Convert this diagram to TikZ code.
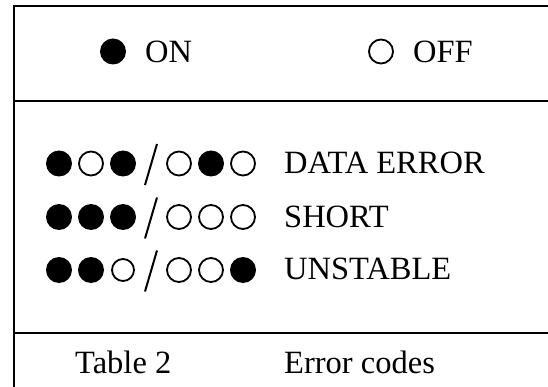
\documentclass[tikz,border=0pt]{standalone}
\usepackage{fontspec}
\setmainfont{Liberation Serif}
\usepackage{tikz}
\usetikzlibrary{positioning}

\begin{document}
\begin{tikzpicture}[
    x=1pt, y=-1pt,
    frame/.style={draw, line width=2pt},
    ledon/.style={circle, fill=black, inner sep=0pt, minimum size=26pt},
    ledoff/.style={circle, draw, line width=1.8pt, inner sep=0pt, minimum size=24pt},
    label/.style={anchor=base west, inner sep=0pt, font=\fontsize{32.5}{36}\selectfont},
    sep/.style={line width=2pt}
]
\useasboundingbox (0,0) rectangle (548,387);

% Frame
\draw[frame] (548,5.8) -- (13.7,5.8) -- (13.7,387);
\draw[frame] (13.7,101.5) -- (548,101.5);
\draw[frame] (13.7,332.5) -- (548,332.5);

% Legend
\node[ledon] (on) at (113,51.5) {};
\node[label] (ontext) at (145,63) {ON};
\node[ledoff] (off) at (381,51.5) {};
\node[label] (offtext) at (413,63) {OFF};

% Data error
\node[ledon]  (a1) at (59,163.5) {};
\node[ledoff] (a2) at (91,163.5) {};
\node[ledon]  (a3) at (123,163.5) {};
\node[ledoff] (a4) at (179,163.5) {};
\node[ledon]  (a5) at (211,163.5) {};
\node[ledoff] (a6) at (243,163.5) {};
\coordinate (atop) at (157,144);
\coordinate (abot) at (145,185);
\draw[sep] (atop) -- (abot);
\node[label] (atext) at (284,173.5) {DATA ERROR};

% Short
\node[ledon]  (b1) at (59,217) {};
\node[ledon]  (b2) at (91,217) {};
\node[ledon]  (b3) at (123,217) {};
\node[ledoff] (b4) at (179,217) {};
\node[ledoff] (b5) at (211,217) {};
\node[ledoff] (b6) at (243,217) {};
\coordinate (btop) at (157,197.5);
\coordinate (bbot) at (145,238.5);
\draw[sep] (btop) -- (bbot);
\node[label] (btext) at (284,227) {SHORT};

% Unstable
\node[ledon]  (c1) at (59,270) {};
\node[ledon]  (c2) at (91,270) {};
\node[ledoff, minimum size=22pt] (c3) at (123,270) {};
\node[ledoff] (c4) at (179,270) {};
\node[ledoff] (c5) at (211,270) {};
\node[ledon]  (c6) at (243,270) {};
\coordinate (ctop) at (157,250.5);
\coordinate (cbot) at (145,291.5);
\draw[sep] (ctop) -- (cbot);
\node[label] (ctext) at (284,279) {UNSTABLE};

% Caption
\node[label] (tab) at (75,373) {Table 2};
\node[label] (cap) at (284,373) {Error codes};

\end{tikzpicture}
\end{document}
